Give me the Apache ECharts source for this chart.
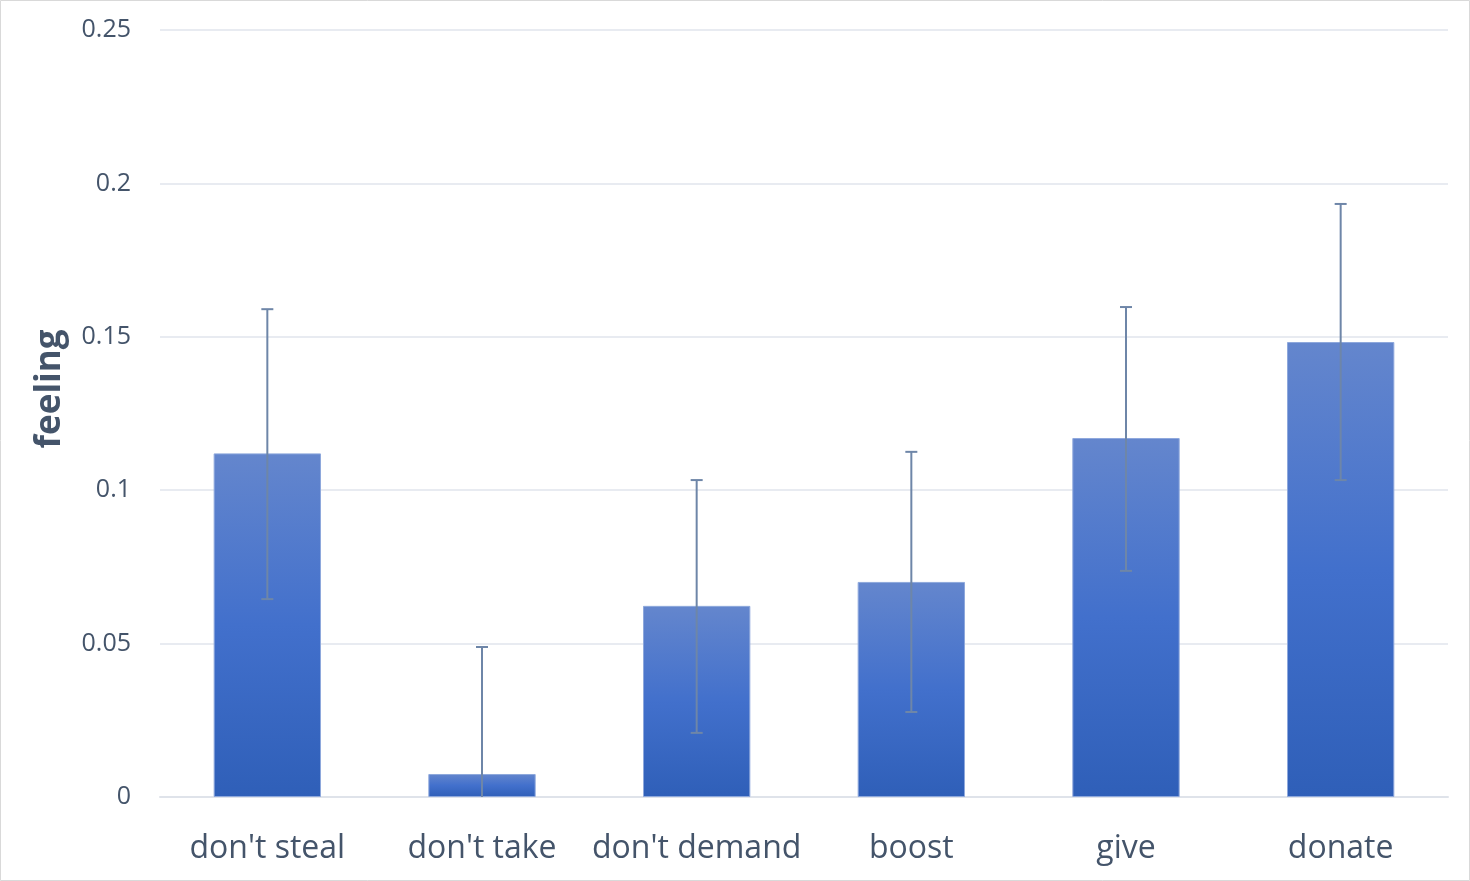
<!DOCTYPE html>
<html>
<head>
<meta charset="utf-8">
<script src="https://cdn.jsdelivr.net/npm/echarts@6/dist/echarts.min.js"></script>
<style>
  html, body { margin: 0; padding: 0; background: #fff; }
  #main { width: 1470px; height: 881px; }
</style>
</head>
<body>
<div id="main"></div>
<script>
// categories and values
var categories = ["don't steal", "don't take", "don't demand", 'boost', 'give', 'donate'];
var feelingValues = [0.112, 0.0075, 0.0623, 0.0701, 0.117, 0.1483];
var errLow = [0.0645, 0, 0.0209, 0.0277, 0.0737, 0.1033];
var errHigh = [0.159, 0.0489, 0.1033, 0.1125, 0.1597, 0.1933];

var textColor = '#44546a';
var font = '"Open Sans", "Noto Sans", sans-serif';

var errData = categories.map(function (c, i) {
  return [i, errLow[i], errHigh[i]];
});

var chart = echarts.init(document.getElementById('main'));

var option = {
  backgroundColor: '#fff',
  animation: false,
  grid: { left: 160, right: 22, top: 30, bottom: 84 },
  graphic: [
    {
      type: 'rect',
      shape: { x: 0.5, y: 0.5, width: 1469, height: 880 },
      style: { fill: 'none', stroke: '#d9d9d9', lineWidth: 1 },
      silent: true
    },
    {
      type: 'text',
      x: 50, y: 389,
      rotation: Math.PI / 2,
      style: {
        text: 'feeling',
        fill: textColor,
        font: 'bold 35px ' + font,
        textAlign: 'center',
        textVerticalAlign: 'middle'
      }
    }
  ],
  xAxis: {
    type: 'category',
    data: categories,
    axisLine: { lineStyle: { color: '#dfe3ea', width: 2 } },
    axisTick: { show: false },
    axisLabel: { color: textColor, fontSize: 32, fontFamily: font, margin: 36, interval: 0 }
  },
  yAxis: {
    type: 'value',
    min: 0, max: 0.25, interval: 0.05,
    axisLine: { show: false },
    axisTick: { show: false },
    splitLine: { lineStyle: { color: '#e1e5ec', width: 1.5 } },
    axisLabel: { color: textColor, fontSize: 25, fontFamily: font, margin: 29 }
  },
  series: [
    {
      type: 'bar',
      data: feelingValues,
      barCategoryGap: '50%',
      itemStyle: {
        color: new echarts.graphic.LinearGradient(0, 0, 0, 1, [
          { offset: 0, color: '#6486cd' },
          { offset: 0.5, color: '#4270cc' },
          { offset: 1, color: '#2f5fb8' }
        ]),
        borderColor: '#8ea8dc',
        borderWidth: 1
      }
    },
    {
      type: 'custom',
      data: errData,
      z: 10,
      renderItem: function (params, api) {
        var x = api.value(0);
        var lo = api.coord([x, api.value(1)]);
        var hi = api.coord([x, api.value(2)]);
        var cap = 6;
        var st = { stroke: '#6e86a8', lineWidth: 2 };
        var children = [
          { type: 'line', shape: { x1: hi[0], y1: hi[1], x2: lo[0], y2: lo[1] }, style: st },
          { type: 'line', shape: { x1: hi[0] - cap, y1: hi[1], x2: hi[0] + cap, y2: hi[1] }, style: st }
        ];
        if (api.value(1) > 0) {
          children.push({ type: 'line', shape: { x1: lo[0] - cap, y1: lo[1], x2: lo[0] + cap, y2: lo[1] }, style: st });
        }
        return { type: 'group', children: children };
      }
    }
  ]
};

chart.setOption(option);
</script>
</body>
</html>
